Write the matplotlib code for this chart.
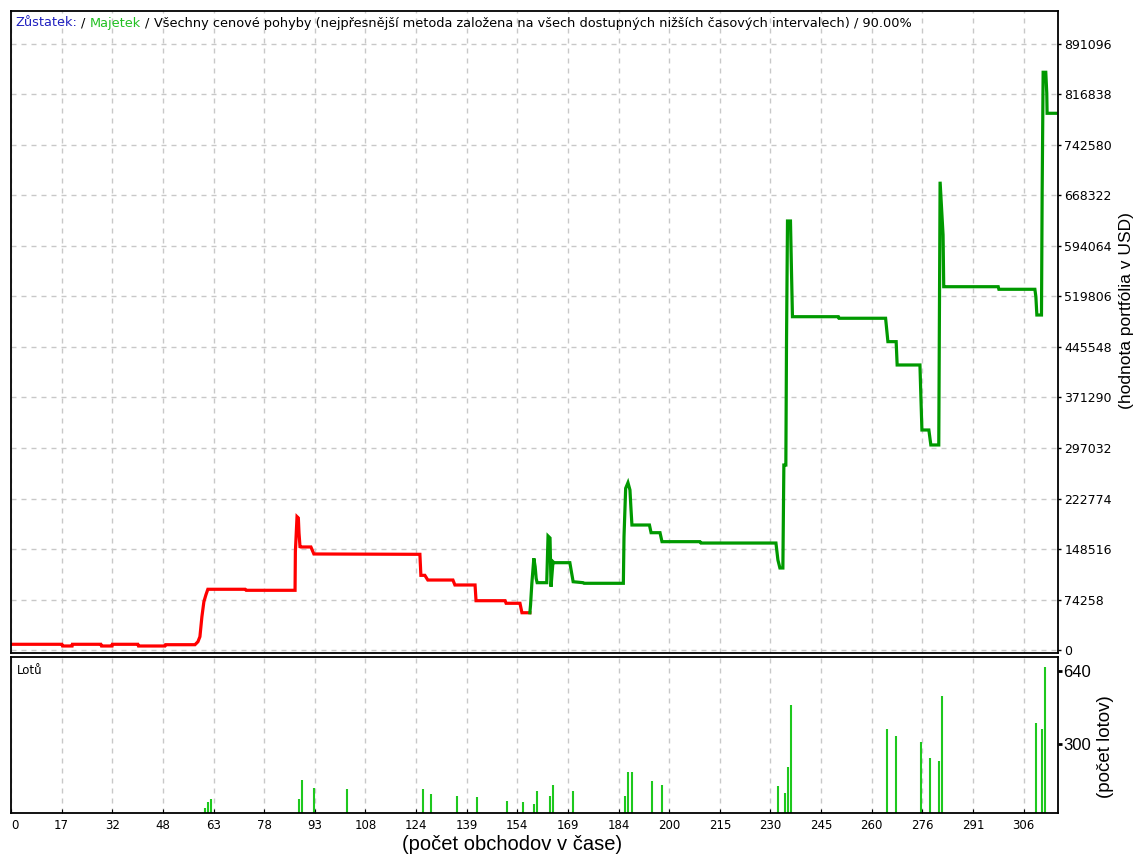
import matplotlib.pyplot as plt
import numpy as np
from matplotlib.offsetbox import TextArea, HPacker, AnchoredOffsetbox

# portfolio value (USD) against trade count
red_trades = [0, 15.4, 15.6, 18.5, 18.6, 27.2, 27.4, 30.6, 30.7, 38.4,
              38.6, 46.6, 46.8, 55.7, 56.6, 57.2, 57.8, 58.4, 59.0, 59.6,
              70.9, 71.2, 86.0, 86.1, 86.6, 87.0, 87.2, 87.5, 87.8, 90.8,
              91.7, 123.8, 124.1, 125.3, 126.2, 133.8, 134.4, 140.5, 140.8, 149.6,
              149.9, 154.1, 154.7, 157.1]
red_values = [8400, 8400, 5900, 5900, 8400, 8400, 5900, 5900, 8400, 8400,
              5900, 5900, 7800, 7800, 12200, 19600, 49000, 71000, 80900, 89300,
              89300, 87800, 87800, 144500, 196000, 194100, 172000, 151900, 151500, 151500,
              141200, 140700, 109800, 109800, 102900, 102900, 95600, 95600, 72500, 72500,
              68700, 68700, 54800, 54800]

green_trades = [157.1, 157.3, 157.7, 158.3, 158.7, 159.0, 159.3, 162.2, 162.6, 163.2,
                163.5, 164.1, 164.4, 169.2, 170.2, 173.2, 173.5, 185.4, 185.6, 186.1,
                186.8, 187.4, 187.7, 188.0, 193.3, 193.8, 196.5, 197.1, 208.6, 208.9,
                231.6, 232.2, 232.8, 233.7, 234.0, 234.6, 234.8, 235.1, 236.0, 236.3,
                236.6, 250.5, 250.7, 264.8, 265.5, 268.0, 268.3, 275.2, 275.5, 275.8,
                277.9, 278.5, 280.9, 281.1, 281.3, 282.2, 282.4, 282.8, 298.9, 299.1,
                310.0, 310.3, 310.6, 312.0, 312.2, 312.5, 313.3, 313.6, 313.7, 316.4]
green_values = [54800, 66200, 98100, 134800, 122500, 105400, 99000, 99000, 167600, 164700,
                93100, 129800, 128400, 128400, 100400, 99000, 98100, 98100, 166600, 237800,
                246000, 235300, 208400, 183800, 183800, 172500, 172500, 159300, 159300, 157300,
                157300, 132300, 120600, 120600, 272000, 272000, 451900, 630800, 630800, 558800,
                490100, 490100, 487800, 487800, 453400, 453400, 419100, 419100, 370100, 323500,
                323500, 301500, 301500, 496000, 688600, 610300, 534200, 534200, 534200, 530400,
                530400, 519500, 492600, 492600, 671600, 849500, 849500, 818600, 789200, 789200]

# lots per trade (bottom panel)
lot_trades = [58.6, 59.6, 60.6, 87.1, 88.0, 91.6, 101.8, 124.8, 127.2, 134.9,
              141.1, 150.2, 155.0, 158.2, 159.3, 163.1, 164.0, 170.3, 186.0, 186.9,
              187.9, 194.2, 197.0, 232.3, 234.3, 235.3, 236.2, 265.2, 268.1, 275.4,
              278.1, 281.1, 282.0, 310.2, 312.1, 313.0]
lot_sizes = [4, 32, 48, 47, 135, 99, 92, 92, 70, 62,
             55, 39, 32, 25, 84, 62, 113, 84, 62, 172,
             172, 129, 113, 107, 76, 195, 480, 369, 339, 310,
             238, 224, 524, 400, 370, 655]

x_labels = [0, 17, 32, 48, 63, 78, 93, 108, 124, 139, 154, 169, 184, 200,
            215, 230, 245, 260, 276, 291, 306]
y_ticks = [0, 74258, 148516, 222774, 297032, 371290, 445548, 519806,
           594064, 668322, 742580, 816838, 891096]
lot_ticks = [300, 640]

title_parts = ['Zůstatek:', '/', 'Majetek', '/',
               'Všechny cenové pohyby (nejpřesnější metoda založena na všech dostupných '
               'nižších časových intervalech) / 90.00%']
title_colors = ['#2020c0', 'black', '#22c022', 'black', 'black']

W, H = 1135, 856
grid_kw = dict(color='#c8c8c8', linestyle=(0, (3.6, 3.6)), linewidth=1)
x_pos = np.arange(len(x_labels)) * 15.33

fig = plt.figure(figsize=(W / 100, H / 100), dpi=100)
ax = fig.add_axes([11 / W, 1 - 653 / H, 1047 / W, 642 / H])
ax2 = fig.add_axes([11 / W, 1 - 813 / H, 1047 / W, 156 / H])

# --- equity panel
ax.plot(red_trades, red_values, color='#ff0000', lw=2.3, solid_joinstyle='miter')
ax.plot(green_trades, green_values, color='#009900', lw=2.3, solid_joinstyle='miter')
ax.set_xlim(0, 317)
ax.set_ylim(-4400, 939600)
ax.set_xticks(x_pos)
ax.set_yticks(y_ticks)
ax.set_yticklabels([str(v) for v in y_ticks])
ax.yaxis.tick_right()
ax.tick_params(axis='x', length=0, labelbottom=False)
ax.tick_params(axis='y', length=2.5, width=1, pad=2, labelsize=9)
ax.grid(True, **grid_kw)
ax.set_axisbelow(True)

# --- lots panel
ax2.vlines(lot_trades, -17.6, lot_sizes, colors='#1ec81e', lw=1.5)
ax2.set_xlim(0, 317)
ax2.set_ylim(-17.6, 703)
ax2.set_xticks(x_pos)
ax2.set_xticklabels([str(v) for v in x_labels])
ax2.get_xticklabels()[0].set_ha('left')
ax2.set_yticks(lot_ticks)
ax2.yaxis.tick_right()
ax2.tick_params(axis='x', direction='in', length=3, pad=4, labelsize=8.5)
ax2.tick_params(axis='y', length=3, width=2, pad=1, labelsize=12)
for lab in ax2.get_yticklabels():
    lab.set_family('Liberation Sans')
ax2.grid(True, axis='x', **grid_kw)
ax2.set_axisbelow(True)

for a in (ax, ax2):
    for sp in a.spines.values():
        sp.set_linewidth(1.3)

# title line with coloured legend words
areas = [TextArea(t, textprops=dict(color=c, fontsize=9.3))
         for t, c in zip(title_parts, title_colors)]
title_box = HPacker(children=areas, align='baseline', pad=0, sep=3)
fig.add_artist(AnchoredOffsetbox(loc='center left', child=title_box, pad=0,
                                 borderpad=0, frameon=False,
                                 bbox_to_anchor=(15 / W, 1 - 23 / H),
                                 bbox_transform=fig.transFigure))

fig.text(17 / W, 1 - 670 / H, 'Lotů', fontsize=8.5, va='center', ha='left')
fig.text(1127 / W, 1 - 311 / H, '(hodnota portfólia v USD)', rotation=90,
         ha='center', va='center', fontsize=12.5, family='Liberation Sans')
fig.text(1106 / W, 1 - 747 / H, '(počet lotov)', rotation=90,
         ha='center', va='center', fontsize=13.5, family='Liberation Sans')
fig.text(512 / W, 1 - 845 / H, '(počet obchodov v čase)', ha='center',
         va='center', fontsize=14.5, family='Liberation Sans')

fig.savefig('out.png', dpi=100)
